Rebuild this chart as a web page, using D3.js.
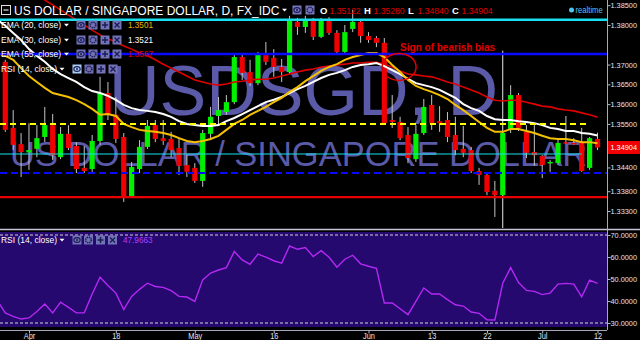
<!DOCTYPE html>
<html>
<head>
<meta charset="utf-8">
<script src="https://d3js.org/d3.v7.min.js"></script>
<style>
  body { margin: 0; background: #000; }
  svg { display: block; }
  text { font-family: "Liberation Sans", Arial, sans-serif; }
</style>
</head>
<body>
<div id="chart"></div>
<script>

// Trading days shown (Mar 28 sits just off the left edge).
const dates = [
    "2016-03-28", "2016-03-29", "2016-03-30", "2016-03-31",
    "2016-04-01", "2016-04-04", "2016-04-05", "2016-04-06", "2016-04-07", "2016-04-08",
    "2016-04-11", "2016-04-12", "2016-04-13", "2016-04-14", "2016-04-15",
    "2016-04-18", "2016-04-19", "2016-04-20", "2016-04-21", "2016-04-22",
    "2016-04-25", "2016-04-26", "2016-04-27", "2016-04-28", "2016-04-29",
    "2016-05-02", "2016-05-03", "2016-05-04", "2016-05-05", "2016-05-06",
    "2016-05-09", "2016-05-10", "2016-05-11", "2016-05-12", "2016-05-13",
    "2016-05-16", "2016-05-17", "2016-05-18", "2016-05-19", "2016-05-20",
    "2016-05-23", "2016-05-24", "2016-05-25", "2016-05-26", "2016-05-27",
    "2016-05-30", "2016-05-31",
    "2016-06-01", "2016-06-02", "2016-06-03",
    "2016-06-06", "2016-06-07", "2016-06-08", "2016-06-09", "2016-06-10",
    "2016-06-13", "2016-06-14", "2016-06-15", "2016-06-16", "2016-06-17",
    "2016-06-20", "2016-06-21", "2016-06-22", "2016-06-23", "2016-06-24",
    "2016-06-27", "2016-06-28", "2016-06-29", "2016-06-30",
    "2016-07-01",
    "2016-07-04", "2016-07-05", "2016-07-06", "2016-07-07", "2016-07-08",
    "2016-07-11", "2016-07-12"
];

const open = [null,
    1.3707, 1.3540, 1.3499,
    1.3478, 1.3487, 1.3517, 1.3547, 1.3466, 1.3525,
    1.3494, 1.3439, 1.3436, 1.3507, 1.3628,
    1.3573, 1.3517, 1.3365, 1.3436, 1.3492,
    1.3547, 1.3514, 1.3512, 1.3489, 1.3446,
    1.3439, 1.3406, 1.3525, 1.3570, 1.3580,
    1.3605, 1.3719, 1.3681, 1.3653, 1.3724,
    1.3717, 1.3694, 1.3681, 1.3808, 1.3795,
    1.3810, 1.3770, 1.3810, 1.3780, 1.3732,
    1.3790, 1.3808,
    1.3772, 1.3767, 1.3755,
    1.3560, 1.3555, 1.3522, 1.3461, 1.3527,
    1.3598, 1.3557, 1.3560, 1.3522, 1.3487,
    1.3484, 1.3431, 1.3421, 1.3381, 1.3370,
    1.3535, 1.3623, 1.3530, 1.3479,
    1.3469,
    1.3451, 1.3451, 1.3504, 1.3502, 1.3502,
    1.3439, 1.35122
];

const high = [null,
    1.3712, 1.3585, 1.3527,
    1.3552, 1.3547, 1.3593, 1.3575, 1.3542, 1.3547,
    1.3504, 1.3494, 1.3522, 1.3669, 1.3656,
    1.3618, 1.3527, 1.3454, 1.3509, 1.3560,
    1.3560, 1.3560, 1.3530, 1.3514, 1.3471,
    1.3451, 1.3535, 1.3593, 1.3618, 1.3623,
    1.3724, 1.3724, 1.3712, 1.3732, 1.3757,
    1.3739, 1.3714, 1.3823, 1.3818, 1.3823,
    1.3818, 1.3818, 1.3820, 1.3787, 1.3800,
    1.3838, 1.3815,
    1.3782, 1.3772, 1.3767,
    1.3623, 1.3568, 1.3542, 1.3547, 1.3613,
    1.3623, 1.3595, 1.3580, 1.3568, 1.3545,
    1.3492, 1.3439, 1.3426, 1.3406, 1.3530,
    1.3648, 1.3628, 1.3547, 1.3547,
    1.3471,
    1.3459, 1.3512, 1.3570, 1.3514, 1.3540,
    1.3517, 1.35280
];

const low = [null,
    1.3530, 1.3484, 1.3416,
    1.3434, 1.3466, 1.3504, 1.3459, 1.3461, 1.3484,
    1.3426, 1.3426, 1.3429, 1.3497, 1.3560,
    1.3502, 1.3353, 1.3363, 1.3426, 1.3487,
    1.3504, 1.3497, 1.3466, 1.3421, 1.3416,
    1.3401, 1.3391, 1.3509, 1.3547, 1.3573,
    1.3600, 1.3661, 1.3646, 1.3648, 1.3699,
    1.3669, 1.3656, 1.3676, 1.3775, 1.3780,
    1.3762, 1.3767, 1.3775, 1.3724, 1.3727,
    1.3782, 1.3755,
    1.3755, 1.3744, 1.3550,
    1.3540, 1.3509, 1.3451, 1.3454, 1.3522,
    1.3535, 1.3530, 1.3504, 1.3471, 1.3466,
    1.3426, 1.3396, 1.3370, 1.3315, 1.3368,
    1.3527, 1.3532, 1.3464, 1.3444,
    1.3413,
    1.3429, 1.3446, 1.3499, 1.3497, 1.3429,
    1.3434, 1.34840
];

const close = [null,
    1.3535, 1.3497, 1.3479,
    1.3484, 1.3514, 1.3547, 1.3471, 1.3525, 1.3489,
    1.3436, 1.3431, 1.3507, 1.3628, 1.3573,
    1.3512, 1.3365, 1.3441, 1.3492, 1.3545,
    1.3512, 1.3507, 1.3484, 1.3444, 1.3429,
    1.3406, 1.3527, 1.3568, 1.3585, 1.3605,
    1.3719, 1.3679, 1.3653, 1.3729, 1.3707,
    1.3694, 1.3681, 1.3810, 1.3795, 1.3810,
    1.3770, 1.3810, 1.3780, 1.3732, 1.3782,
    1.3808, 1.3772,
    1.3762, 1.3755, 1.3552,
    1.3555, 1.3514, 1.3464, 1.3525, 1.3593,
    1.3552, 1.3552, 1.3517, 1.3484, 1.3477,
    1.3431, 1.3421, 1.3378, 1.3370, 1.3527,
    1.3623, 1.3540, 1.3477, 1.3471,
    1.3446,
    1.3454, 1.3502, 1.3502, 1.3499, 1.3431,
    1.3514, 1.34904
];

// Moving averages.
const ema20 = [
    1.3729, 1.3722, 1.3712, 1.3691,
    1.3671, 1.3656, 1.3641, 1.3628, 1.3623, 1.3618,
    1.3610, 1.3600, 1.3588, 1.3573, 1.3575,
    1.3570, 1.3550, 1.3542, 1.3535, 1.3532,
    1.3530, 1.3527, 1.3522, 1.3514, 1.3507,
    1.3504, 1.3507, 1.3512, 1.3520, 1.3535,
    1.3550, 1.3560, 1.3573, 1.3583, 1.3593,
    1.3605, 1.3616, 1.3631, 1.3643, 1.3658,
    1.3671, 1.3684, 1.3694, 1.3701, 1.3712,
    1.3719, 1.3724,
    1.3729, 1.3729, 1.3719,
    1.3699, 1.3681, 1.3661, 1.3646, 1.3638,
    1.3631, 1.3623, 1.3613, 1.3598, 1.3585,
    1.3570, 1.3555, 1.3540, 1.3530, 1.3530,
    1.3537, 1.3537, 1.3532, 1.3527,
    1.3520,
    1.3514, 1.3512, 1.3512, 1.3509, 1.3504,
    1.3504, 1.3501
];

const ema30 = [
    1.3813, 1.3798, 1.3780, 1.3762,
    1.3739, 1.3722, 1.3707, 1.3689, 1.3676, 1.3666,
    1.3656, 1.3643, 1.3633, 1.3628, 1.3621,
    1.3611, 1.3598, 1.3590, 1.3585, 1.3583,
    1.3580, 1.3575, 1.3568, 1.3557, 1.3550,
    1.3547, 1.3545, 1.3545, 1.3547, 1.3557,
    1.3565, 1.3575, 1.3585, 1.3595, 1.3605,
    1.3611, 1.3618, 1.3628, 1.3638, 1.3646,
    1.3656, 1.3666, 1.3674, 1.3679, 1.3686,
    1.3694, 1.3699,
    1.3701, 1.3704, 1.3696,
    1.3686, 1.3676, 1.3664, 1.3653, 1.3648,
    1.3643, 1.3636, 1.3626, 1.3616, 1.3600,
    1.3590, 1.3583, 1.3570, 1.3562, 1.3560,
    1.3560, 1.3557, 1.3555, 1.3552,
    1.3547,
    1.3540, 1.3537, 1.3532, 1.3532, 1.3527,
    1.3525, 1.3521
];

const ema55 = [
    1.3952, 1.3937, 1.3921, 1.3906,
    1.3891, 1.3878, 1.3863, 1.3851, 1.3838, 1.3825,
    1.3813, 1.3800, 1.3787, 1.3775, 1.3765,
    1.3757, 1.3747, 1.3739, 1.3729, 1.3722,
    1.3712, 1.3701, 1.3691, 1.3681, 1.3671,
    1.3661, 1.3656, 1.3651, 1.3648, 1.3651,
    1.3656, 1.3658, 1.3661, 1.3663, 1.3663,
    1.3666, 1.3671, 1.3676, 1.3681, 1.3686,
    1.3689, 1.3694, 1.3696, 1.3699, 1.3701,
    1.3704, 1.3704,
    1.3706, 1.3706, 1.3701,
    1.3694, 1.3684, 1.3676, 1.3674, 1.3671,
    1.3669, 1.3663, 1.3656, 1.3651, 1.3643,
    1.3636, 1.3628, 1.3618, 1.3610, 1.3608,
    1.3610, 1.3610, 1.3605, 1.3600,
    1.3595,
    1.3593, 1.3588, 1.3585, 1.3583, 1.3578,
    1.3573, 1.3567
];

const rsi = [
    40.1, 34.6, 33.0, 31.8,
    32.3, 35.2, 38.6, 34.6, 39.5, 37.1,
    34.6, 34.6, 43.2, 50.8, 47.0,
    43.6, 36.1, 42.1, 45.3, 48.1,
    46.6, 46.2, 44.7, 42.1, 41.8,
    39.8, 49.6, 52.7, 54.1, 55.2,
    62.5, 58.7, 56.7, 61.3, 59.9,
    58.3, 57.2, 65.0, 63.5, 64.3,
    60.2, 62.9, 59.9, 55.4, 59.0,
    60.8, 56.9,
    55.8, 54.9, 39.1,
    39.1, 36.5, 33.8, 39.8, 45.9,
    43.2, 43.2, 40.6, 38.3, 37.7,
    35.0, 34.4, 31.5, 31.4, 48.1,
    55.2, 48.4, 44.8, 44.4,
    42.9,
    43.6, 47.7, 48.0, 47.7, 41.9,
    49.5, 47.97
];

// Drawn support / resistance levels (top to bottom) and where the short ones stop.
const levels = [1.3813, 1.3727, 1.3550, 1.3474, 1.3426, 1.3365];
const levelEnds = [null, null, "2016-07-11", "2016-07-08", null, null];

// Axis ticks.
const priceTicks = [1.385, 1.38, 1.37, 1.365, 1.36, 1.355, 1.344, 1.338, 1.333];
const rsiTicks = [70, 60, 50, 40, 30];
const dateTicks = ["2016-04-01", "2016-04-18", "2016-05-02", "2016-05-16", "2016-06-01",
                   "2016-06-13", "2016-06-22", "2016-07-01", "2016-07-12"];
const dateLabels = ["Apr", "18", "May", "16", "Jun", "13", "22", "Jul", "12"];

// Brexit day marker and the text note.
const markerDate = "2016-06-24";
const markerTop = 1.3735;
const noteDate = "2016-06-07";
const notePrice = 1.3694;
const noteText = "Sign of bearish bias";

const emaNames = ["EMA (20, close)", "EMA (30, close)", "EMA (55, close)"];
const emaValues = ["1.3501", "1.3521", "1.3567"];
const rsiName = "RSI (14, close)";
const rsiValue = "47.9663";
const ohlcLetters = ["O", "H", "L", "C"];
const ohlcValues = ["1.35122", "1.35280", "1.34840", "1.34904"];
const lastPrice = 1.34904;

// Sizes.
const w = 640;
const h = 340;
const plotRight = 607;
const priceBottom = 228;

const svg = d3.select("#chart")
    .append("svg")
    .attr("width", w)
    .attr("height", h);

svg.append("rect").attr("width", w).attr("height", h).attr("fill", "#000");

const defs = svg.append("defs");
defs.append("clipPath").attr("id", "clipPrice")
    .append("rect").attr("x", 0).attr("y", 0).attr("width", plotRight).attr("height", priceBottom);
defs.append("clipPath").attr("id", "clipRsi")
    .append("rect").attr("x", 0).attr("y", 232).attr("width", plotRight).attr("height", 95);

// Scales.
const x = d3.scalePoint().domain(dates).range([-2.6, 597.5]);
const y = d3.scaleLinear().domain([1.333, 1.385]).range([211, 5.2]);
const yr = d3.scaleLinear().domain([30, 70]).range([323, 235]);

// Squeeze text horizontally to match the narrow screenshot font.
const squeeze = (sel, k) => {
    sel.each(function () {
        const t = this.getComputedTextLength();
        d3.select(this).attr("textLength", t * k).attr("lengthAdjust", "spacingAndGlyphs");
    });
};

const price = svg.append("g").attr("clip-path", "url(#clipPrice)");

// Watermark.
price.append("text")
    .attr("x", 109).attr("y", 115)
    .attr("font-size", 70)
    .attr("fill", "#5a5aa8")
    .text("USDSGD, D");
price.append("text")
    .attr("x", 10).attr("y", 166)
    .attr("font-size", 34.5)
    .attr("fill", "#5a5aa8")
    .text("US DOLLAR / SINGAPORE DOLLAR");

// Legend icons.
const drawIcon = (g, kind, cx, cy, bg) => {
    const ink = "#1c1c55";
    g.append("rect")
        .attr("x", cx - 4.5).attr("y", cy - 4.5)
        .attr("width", 9).attr("height", 9)
        .attr("fill", bg);
    if (kind === "eye") {
        g.append("ellipse").attr("cx", cx).attr("cy", cy).attr("rx", 3.2).attr("ry", 2.4)
            .attr("fill", "none").attr("stroke", ink).attr("stroke-width", 1.1);
        g.append("circle").attr("cx", cx).attr("cy", cy).attr("r", 1).attr("fill", ink);
    } else if (kind === "gear") {
        g.append("circle").attr("cx", cx).attr("cy", cy).attr("r", 2.8)
            .attr("fill", "none").attr("stroke", ink).attr("stroke-width", 1.6)
            .attr("stroke-dasharray", "1.4,0.8");
        g.append("circle").attr("cx", cx).attr("cy", cy).attr("r", 1).attr("fill", bg);
    } else if (kind === "plus") {
        g.append("path").attr("d", `M${cx - 3},${cy}H${cx + 3}M${cx},${cy - 3}V${cy + 3}`)
            .attr("stroke", ink).attr("stroke-width", 1.5);
    } else {
        g.append("path").attr("d", `M${cx - 2.5},${cy - 2.5}L${cx + 2.5},${cy + 2.5}M${cx + 2.5},${cy - 2.5}L${cx - 2.5},${cy + 2.5}`)
            .attr("stroke", ink).attr("stroke-width", 1.4);
    }
};

const caret = (g, cx, cy) => {
    g.append("path")
        .attr("d", `M${cx - 2.5},${cy - 1.2}L${cx + 2.5},${cy - 1.2}L${cx},${cy + 1.6}Z`)
        .attr("fill", "#fff");
};

const legend = svg.append("g");
const kinds = ["eye", "gear", "plus", "cross"];

const legendRow = (cy, name, nameW, caretX, iconXs, value, valueColor, eyeBg) => {
    legend.append("text")
        .attr("x", 1).attr("y", cy + 3.3)
        .attr("font-size", 9.5).attr("fill", "#fff")
        .attr("textLength", nameW).attr("lengthAdjust", "spacingAndGlyphs")
        .text(name);
    caret(legend, caretX, cy);
    iconXs.forEach((ix, k) => drawIcon(legend, kinds[k], ix, cy, k === 0 ? eyeBg : "#7272b6"));
    if (value) {
        legend.append("text")
            .attr("x", 128).attr("y", cy + 3.3)
            .attr("font-size", 9.5).attr("fill", valueColor)
            .text(value)
            .call(squeeze, 0.86);
    }
};

const emaColors = ["#e8b400", "#ffffff", "#d80000"];
emaNames.forEach((n, k) => {
    legendRow([25, 40, 54][k], n, 60, 66.5, [81, 93, 105, 117], emaValues[k], emaColors[k], "#7272b6");
});
legendRow(69, rsiName, 56, 62, [77, 89, 101, 113], null, null, "#a8ccf4");

// Vertical Brexit marker.
price.append("line")
    .attr("x1", x(markerDate)).attr("x2", x(markerDate))
    .attr("y1", y(markerTop)).attr("y2", priceBottom)
    .attr("stroke", "#e8e8e8").attr("stroke-width", 1);

// Candles.
const candles = dates.map((d, i) => ({ date: d, o: open[i], h: high[i], l: low[i], c: close[i] }))
    .filter(d => d.o !== null);

const up = "#00f000";
const down = "#f00000";

price.selectAll(".wick")
    .data(candles)
    .enter()
    .append("line")
    .attr("class", "wick")
    .attr("x1", d => x(d.date)).attr("x2", d => x(d.date))
    .attr("y1", d => y(d.h)).attr("y2", d => y(d.l))
    .attr("stroke", "#c4c4c4").attr("stroke-width", 1);

price.selectAll(".body")
    .data(candles)
    .enter()
    .append("rect")
    .attr("class", "body")
    .attr("x", d => x(d.date) - 2.6)
    .attr("width", 5.2)
    .attr("y", d => y(Math.max(d.o, d.c)))
    .attr("height", d => Math.max(1.5, Math.abs(y(d.o) - y(d.c))))
    .attr("fill", d => d.c > d.o ? up : down);

// EMA lines.
const emaLine = d3.line()
    .x((d, i) => x(dates[i]))
    .y(d => y(d));

price.append("path").datum(ema55).attr("d", emaLine)
    .attr("fill", "none").attr("stroke", "#e00000").attr("stroke-width", 1.6);
price.append("path").datum(ema30).attr("d", emaLine)
    .attr("fill", "none").attr("stroke", "#ffffff").attr("stroke-width", 2);
price.append("path").datum(ema20).attr("d", emaLine)
    .attr("fill", "none").attr("stroke", "#f5c000").attr("stroke-width", 2);

// Level lines.
const levelColors = ["#18e0ee", "#0a0aff", "#ffff00", "#18e0ee", "#0a0aff", "#e80000"];
const levelWidths = [2.5, 2.5, 2, 1.2, 2.2, 2.2];
const levelDash = [null, null, "6,4", null, "7,4", null];

price.selectAll(".level")
    .data(levels)
    .enter()
    .append("line")
    .attr("class", "level")
    .attr("x1", 0)
    .attr("x2", (d, i) => levelEnds[i] ? x(levelEnds[i]) : plotRight)
    .attr("y1", d => y(d)).attr("y2", d => y(d))
    .attr("stroke", (d, i) => levelColors[i])
    .attr("stroke-width", (d, i) => levelWidths[i])
    .attr("stroke-dasharray", (d, i) => levelDash[i]);

// Note with circle.
price.append("ellipse")
    .attr("cx", x(noteDate) - 1).attr("cy", y(notePrice))
    .attr("rx", 17).attr("ry", 13.5)
    .attr("fill", "none").attr("stroke", "#e00000").attr("stroke-width", 1.5);
svg.append("text")
    .attr("x", x(noteDate)).attr("y", y(notePrice) - 16)
    .attr("font-size", 10).attr("font-weight", "bold")
    .attr("fill", "#e00000")
    .text(noteText);

// RSI pane.
svg.append("rect")
    .attr("x", 0).attr("y", 232)
    .attr("width", plotRight).attr("height", 95)
    .attr("fill", "#25096e");

svg.selectAll(".rsiBand")
    .data([70, 30])
    .enter()
    .append("line")
    .attr("x1", 0).attr("x2", plotRight)
    .attr("y1", d => yr(d)).attr("y2", d => yr(d))
    .attr("stroke", "#d4d4dc").attr("stroke-width", 1)
    .attr("stroke-dasharray", "3,2");

const rsiLine = d3.line()
    .x((d, i) => x(dates[i]))
    .y(d => yr(d));

svg.append("g").attr("clip-path", "url(#clipRsi)")
    .append("path").datum(rsi).attr("d", rsiLine)
    .attr("fill", "none").attr("stroke", "#b428f4").attr("stroke-width", 1.4);

// RSI legend.
svg.append("text")
    .attr("x", 1).attr("y", 243.3)
    .attr("font-size", 9.5).attr("fill", "#fff")
    .attr("textLength", 56).attr("lengthAdjust", "spacingAndGlyphs")
    .text(rsiName);
caret(svg, 62, 240);
kinds.forEach((k, j) => drawIcon(svg, k, [77, 88.5, 100.5, 112.5][j], 240, "#7272b6"));
svg.append("text")
    .attr("x", 123).attr("y", 243.3)
    .attr("font-size", 9.5).attr("fill", "#b040ff")
    .text(rsiValue)
    .call(squeeze, 0.86);

// Pane separator and axis frame.
svg.append("line")
    .attr("x1", 0).attr("x2", w).attr("y1", 229.5).attr("y2", 229.5)
    .attr("stroke", "#c4c4d4").attr("stroke-width", 1.5);
svg.append("line")
    .attr("x1", plotRight + 0.5).attr("x2", plotRight + 0.5).attr("y1", 0).attr("y2", 330)
    .attr("stroke", "#a8a8bc").attr("stroke-width", 1);
svg.append("line")
    .attr("x1", 0).attr("x2", plotRight).attr("y1", 330.5).attr("y2", 330.5)
    .attr("stroke", "#a8a8bc").attr("stroke-width", 1);

// Right-hand axes: the axis call sets its own font, so restyle afterwards.
const styleRightAxis = (g) => {
    g.attr("font-family", "Liberation Sans, Arial, sans-serif").attr("font-size", 7.9);
    g.select(".domain").remove();
    g.selectAll("line").attr("stroke", "#b8b8c8");
    g.selectAll("text").attr("fill", "#e4e4ee").attr("x", 3).call(squeeze, 0.93);
};

// Price axis.
const yAxis = d3.axisRight(y)
    .tickValues(priceTicks)
    .tickFormat(d3.format(".5f"))
    .tickSize(3)
    .tickSizeOuter(0);

svg.append("g")
    .attr("transform", "translate(" + (plotRight + 0.5) + ",0)")
    .call(yAxis)
    .call(styleRightAxis);

// RSI axis.
const rAxis = d3.axisRight(yr)
    .tickValues(rsiTicks)
    .tickFormat(d3.format(".4f"))
    .tickSize(3)
    .tickSizeOuter(0);

svg.append("g")
    .attr("transform", "translate(" + (plotRight + 0.5) + ",0)")
    .call(rAxis)
    .call(styleRightAxis);

// Last price tag.
svg.append("rect")
    .attr("x", plotRight + 1).attr("y", y(lastPrice) - 6.5)
    .attr("width", w - plotRight - 1).attr("height", 13)
    .attr("fill", "#f00000");
svg.append("text")
    .attr("x", plotRight + 3.5).attr("y", y(lastPrice) + 2.9)
    .attr("font-size", 7.9).attr("fill", "#fff")
    .text(d3.format(".5f")(lastPrice))
    .call(squeeze, 0.93);

// Date axis.
const xAxis = d3.axisBottom(x)
    .tickValues(dateTicks)
    .tickFormat((d, i) => dateLabels[i])
    .tickSize(3)
    .tickSizeOuter(0);

const xa = svg.append("g")
    .attr("transform", "translate(0,330.5)")
    .call(xAxis);
xa.attr("font-family", "Liberation Sans, Arial, sans-serif").attr("font-size", 9);
xa.select(".domain").remove();
xa.selectAll("line").attr("stroke", "#b8b8c8");
xa.selectAll("text").attr("fill", "#e4e4ee").attr("y", 8).attr("dy", 0).call(squeeze, 0.82);

// Header.
const head = svg.append("g");
head.append("rect")
    .attr("x", 1.5).attr("y", 5.5).attr("width", 9).attr("height", 9)
    .attr("fill", "none").attr("stroke", "#e0e0e0").attr("stroke-width", 1);
head.append("line")
    .attr("x1", 3.5).attr("x2", 8.5).attr("y1", 10).attr("y2", 10)
    .attr("stroke", "#e0e0e0").attr("stroke-width", 1.2);
head.append("text")
    .attr("x", 14).attr("y", 14.5)
    .attr("font-size", 12).attr("fill", "#fff")
    .text("US DOLLAR / SINGAPORE DOLLAR, D, FX_IDC");
caret(head, 284.5, 10);
drawIcon(head, "eye", 297, 10, "#7676bc");
drawIcon(head, "gear", 310, 10, "#7676bc");

const ohlcX = [320, 364, 408, 452];
ohlcLetters.forEach((l, k) => {
    head.append("text")
        .attr("x", ohlcX[k]).attr("y", 13.8)
        .attr("font-size", 9.5).attr("font-weight", "bold").attr("fill", "#fff")
        .text(l);
    head.append("text")
        .attr("x", ohlcX[k] + 9.5).attr("y", 13.8)
        .attr("font-size", 9.5).attr("fill", "#e00000")
        .text(ohlcValues[k])
        .call(squeeze, 0.9);
});

head.append("circle")
    .attr("cx", 571.5).attr("cy", 10).attr("r", 2.5)
    .attr("fill", "#4cc4f4");
head.append("text")
    .attr("x", 575.5).attr("y", 13)
    .attr("font-size", 9).attr("fill", "#4cc4f4")
    .text("realtime")
    .call(squeeze, 0.85);

</script>
</body>
</html>
